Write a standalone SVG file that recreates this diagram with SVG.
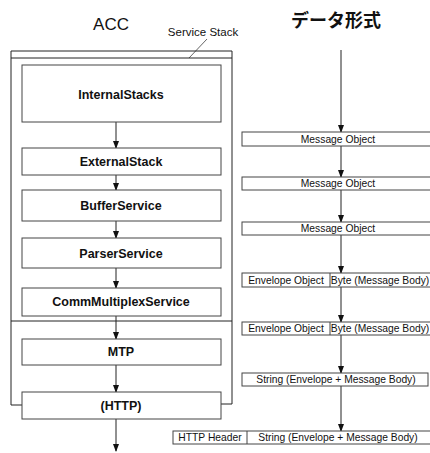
<svg xmlns="http://www.w3.org/2000/svg" width="430" height="453" viewBox="0 0 430 453">
<style>
.box{fill:#fff;stroke:#444;stroke-width:1}
.frame{fill:none;stroke:#222;stroke-width:1}
.node{font-family:"Liberation Sans",Arial,sans-serif;font-size:12.5px;font-weight:bold;fill:#111;text-anchor:middle}
.lbl{font-family:"Liberation Sans",Arial,sans-serif;font-size:10.3px;fill:#111;text-anchor:middle}
.title{font-family:"Liberation Sans","Noto Sans CJK JP",sans-serif;font-size:17px;fill:#111;text-anchor:middle}
.conn{stroke:#222;stroke-width:1;fill:none}
</style>
<defs>
<marker id="ah" viewBox="0 0 8 8" refX="7" refY="4" markerWidth="8" markerHeight="8" markerUnits="userSpaceOnUse" orient="auto">
<path d="M0,1 L8,4 L0,7 z" fill="#111"/>
</marker>
</defs>

<text class="title" x="111" y="30">ACC</text>
<text class="title" x="336" y="27" style="font-size:18px;font-weight:bold;font-family:'Noto Sans CJK JP',sans-serif">データ形式</text>
<text class="lbl" x="203" y="36" style="font-size:11.5px">Service Stack</text>

<g id="acc-frame">
<path class="frame" d="M11,405 V51 H232 V404"/>
<line class="frame" x1="11" y1="58" x2="232" y2="58"/>
<line class="frame" x1="11" y1="321" x2="232" y2="321"/>
<line class="frame" x1="11" y1="405" x2="22" y2="405"/>
<line class="frame" x1="232" y1="404" x2="221" y2="404"/>
<line class="frame" x1="207" y1="39" x2="189" y2="58" style="stroke-width:0.7"/>
</g>

<g id="connectors">
<line class="conn" x1="116" y1="122" x2="116" y2="148" marker-end="url(#ah)"/>
<line class="conn" x1="116" y1="175" x2="116" y2="190" marker-end="url(#ah)"/>
<line class="conn" x1="116" y1="221" x2="116" y2="238" marker-end="url(#ah)"/>
<line class="conn" x1="116" y1="268" x2="116" y2="288" marker-end="url(#ah)"/>
<line class="conn" x1="116" y1="316" x2="116" y2="339" marker-end="url(#ah)"/>
<line class="conn" x1="116" y1="365" x2="116" y2="392" marker-end="url(#ah)"/>
<line class="conn" x1="116" y1="419" x2="116" y2="451" marker-end="url(#ah)"/>

<line class="conn" x1="341" y1="50" x2="341" y2="132" marker-end="url(#ah)"/>
<line class="conn" x1="341" y1="146" x2="341" y2="177" marker-end="url(#ah)"/>
<line class="conn" x1="341" y1="190" x2="341" y2="222" marker-end="url(#ah)"/>
<line class="conn" x1="341" y1="235" x2="341" y2="273" marker-end="url(#ah)"/>
<line class="conn" x1="341" y1="287" x2="341" y2="322" marker-end="url(#ah)"/>
<line class="conn" x1="341" y1="335" x2="341" y2="373" marker-end="url(#ah)"/>
<line class="conn" x1="341" y1="386" x2="341" y2="431" marker-end="url(#ah)"/>
</g>

<g id="internal-stacks"><rect class="box" x="22" y="65" width="199" height="57"/><text class="node" x="121" y="99">InternalStacks</text></g>
<g id="external-stack"><rect class="box" x="22" y="148" width="199" height="27"/><text class="node" x="121" y="166">ExternalStack</text></g>
<g id="buffer-service"><rect class="box" x="22" y="190" width="199" height="31"/><text class="node" x="121" y="210">BufferService</text></g>
<g id="parser-service"><rect class="box" x="22" y="238" width="199" height="30"/><text class="node" x="121" y="258">ParserService</text></g>
<g id="comm-multiplex-service"><rect class="box" x="22" y="288" width="199" height="28"/><text class="node" x="121" y="306">CommMultiplexService</text></g>
<g id="mtp"><rect class="box" x="22" y="339" width="199" height="26"/><text class="node" x="121" y="356">MTP</text></g>
<g id="http"><rect class="box" x="22" y="392" width="199" height="27"/><text class="node" x="121" y="410">(HTTP)</text></g>

<g id="msg-obj-1"><rect class="box" x="242" y="132" width="190" height="14"/><text class="lbl" x="338" y="143">Message Object</text></g>
<g id="msg-obj-2"><rect class="box" x="242" y="177" width="190" height="13"/><text class="lbl" x="338" y="187">Message Object</text></g>
<g id="msg-obj-3"><rect class="box" x="242" y="222" width="190" height="13"/><text class="lbl" x="338" y="232">Message Object</text></g>
<g id="envelope-1"><rect class="box" x="242" y="273" width="190" height="14"/><line class="box" x1="330" y1="273" x2="330" y2="287"/><text class="lbl" x="286" y="284">Envelope Object</text><text class="lbl" x="380" y="284">Byte (Message Body)</text></g>
<g id="envelope-2"><rect class="box" x="242" y="322" width="190" height="13"/><line class="box" x1="330" y1="322" x2="330" y2="335"/><text class="lbl" x="286" y="332">Envelope Object</text><text class="lbl" x="380" y="332">Byte (Message Body)</text></g>
<g id="string-1"><rect class="box" x="242" y="373" width="186" height="13"/><text class="lbl" x="336" y="383">String (Envelope + Message Body)</text></g>
<g id="http-row"><rect class="box" x="173" y="431" width="259" height="13"/><line class="box" x1="247" y1="431" x2="247" y2="444"/><text class="lbl" x="210" y="441">HTTP Header</text><text class="lbl" x="338" y="441">String (Envelope + Message Body)</text></g>
</svg>
